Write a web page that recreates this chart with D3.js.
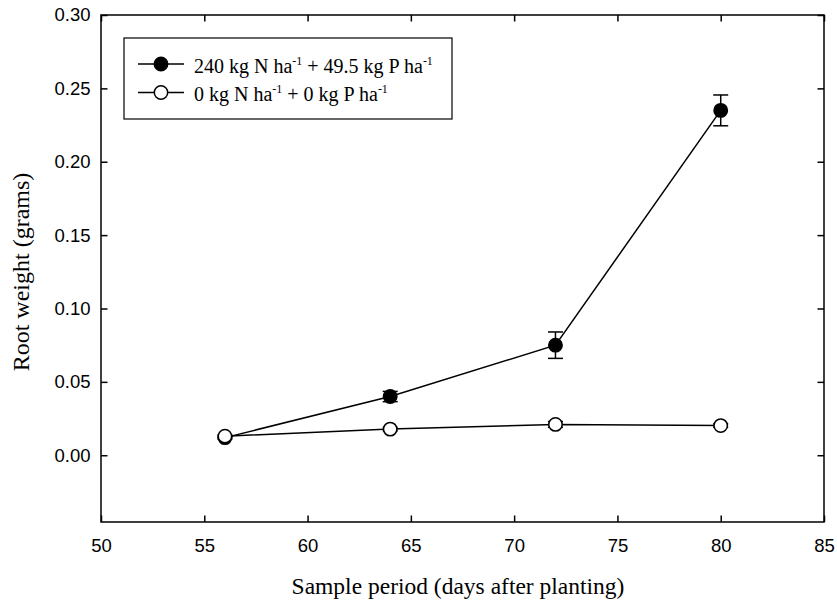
<!DOCTYPE html>
<html><head><meta charset="utf-8">
<script src="https://cdn.jsdelivr.net/npm/d3@7/dist/d3.min.js"></script>
<style>body{margin:0;background:#fff}</style>
</head><body>
<svg id="c" width="837" height="603"></svg>
<script>
const days = [56, 64, 72, 80];
const fertValues = [0.012, 0.040, 0.075, 0.235];
const fertErrors = [0.001, 0.0035, 0.009, 0.0105];
const ctrlValues = [0.013, 0.0178, 0.021, 0.0202];
const ctrlErrors = [0.001, 0.0012, 0.002, 0.0012];
const xTicks = [50, 55, 60, 65, 70, 75, 80, 85];
const yTicks = [0.00, 0.05, 0.10, 0.15, 0.20, 0.25, 0.30];

const svg = d3.select("#c");
const L = 101, R = 824, T = 15, B = 522;
const x = d3.scaleLinear().domain([50, 85]).range([L, R]);
const y = d3.scaleLinear().domain([-0.0455, 0.30]).range([B, T]);

const sans = "'Liberation Sans', Arial, sans-serif";
const serif = "'Liberation Serif', 'Times New Roman', serif";

svg.append("rect").attr("x", L).attr("y", T).attr("width", R - L).attr("height", B - T)
  .attr("fill", "none").attr("stroke", "#000").attr("stroke-width", 1.5);

const tl = 6.5;
const gx = svg.append("g").attr("transform", `translate(0,${B})`)
  .call(d3.axisBottom(x).tickValues(xTicks).tickSize(-tl).tickPadding(16.5).tickFormat(d3.format("d")));
const gxt = svg.append("g").attr("transform", `translate(0,${T})`)
  .call(d3.axisTop(x).tickValues(xTicks).tickSize(-tl).tickFormat(""));
const gy = svg.append("g").attr("transform", `translate(${L},0)`)
  .call(d3.axisLeft(y).tickValues(yTicks).tickSize(-tl).tickPadding(10.5).tickFormat(d3.format(".2f")));
const gyr = svg.append("g").attr("transform", `translate(${R},0)`)
  .call(d3.axisRight(y).tickValues(yTicks).tickSize(-tl).tickFormat(""));

[gx, gxt, gy, gyr].forEach(g => {
  g.select(".domain").remove();
  g.selectAll(".tick line").attr("stroke", "#000").attr("stroke-width", 1.5);
  g.selectAll("text").attr("font-family", sans).attr("font-size", 18.5).attr("fill", "#000");
});

svg.append("text").attr("x", 458).attr("y", 594).attr("text-anchor", "middle")
  .attr("font-family", serif).attr("font-size", 23.5).text("Sample period (days after planting)");
svg.append("text").attr("transform", `translate(29,272) rotate(-90)`).attr("text-anchor", "middle")
  .attr("font-family", serif).attr("font-size", 24).text("Root weight (grams)");

const line = d3.line().x(d => x(d[0])).y(d => y(d[1]));
function drawSeries(vals, errs, fill) {
  const pts = days.map((d, i) => [d, vals[i], errs[i]]);
  svg.append("path").datum(pts).attr("d", line).attr("fill", "none").attr("stroke", "#000").attr("stroke-width", 1.5);
  const g = svg.append("g");
  pts.forEach(p => {
    const cx = x(p[0]);
    const y1 = y(p[1] + p[2]), y0 = y(p[1] - p[2]);
    g.append("line").attr("x1", cx).attr("x2", cx).attr("y1", y1).attr("y2", y0).attr("stroke", "#000").attr("stroke-width", 1.5);
    [y1, y0].forEach(yy => g.append("line").attr("x1", cx - 7.5).attr("x2", cx + 7.5).attr("y1", yy).attr("y2", yy)
      .attr("stroke", "#000").attr("stroke-width", 1.5));
  });
  pts.forEach(p => {
    g.append("circle").attr("cx", x(p[0])).attr("cy", y(p[1])).attr("r", 6.7)
      .attr("fill", fill).attr("stroke", "#000").attr("stroke-width", 1.5);
  });
}
drawSeries(fertValues, fertErrors, "#000");
drawSeries(ctrlValues, ctrlErrors, "#fff");

svg.append("rect").attr("x", 124).attr("y", 38).attr("width", 328).attr("height", 81)
  .attr("fill", "#fff").attr("stroke", "#000").attr("stroke-width", 1.2);
const rows = [
  {y: 64, fill: "#000", parts: [["240 kg N ha", 0], ["-1", 1], [" + 49.5 kg P ha", 0], ["-1", 1]]},
  {y: 92.5, fill: "#fff", parts: [["0 kg N ha", 0], ["-1", 1], [" + 0 kg P ha", 0], ["-1", 1]]}
];
rows.forEach(r => {
  svg.append("line").attr("x1", 138).attr("x2", 184).attr("y1", r.y).attr("y2", r.y).attr("stroke", "#000").attr("stroke-width", 1.5);
  svg.append("circle").attr("cx", 161).attr("cy", r.y).attr("r", 6.7).attr("fill", r.fill).attr("stroke", "#000").attr("stroke-width", 1.5);
  const t = svg.append("text").attr("x", 194).attr("y", r.y + 8.8).attr("font-family", serif).attr("font-size", 20);
  let first = true;
  r.parts.forEach(pp => {
    const ts = t.append("tspan").text(pp[0]);
    if (pp[1]) ts.attr("font-size", 12).attr("dy", -8);
    else ts.attr("dy", first ? 0 : 8).attr("font-size", 20);
    first = false;
  });
});
</script>
</body></html>
